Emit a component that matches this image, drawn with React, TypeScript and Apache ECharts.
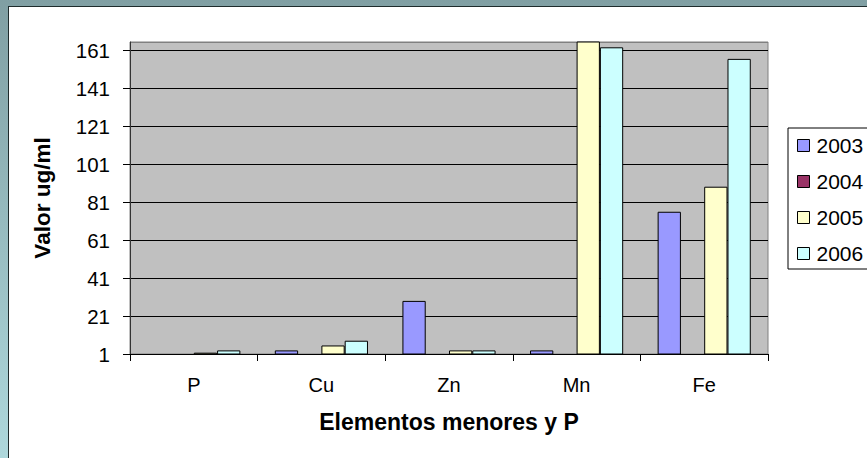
import React, { useEffect, useRef } from "react";
import * as echarts from "echarts";

const categories = ["P", "Cu", "Zn", "Mn", "Fe"];
const seriesNames = ["2003", "2004", "2005", "2006"];
const values2003 = [0, 2.9, 29, 2.9, 76];
const values2004 = [0, 0, 0, 0, 0];
const values2005 = [1.7, 5.5, 2.9, 200, 89.2];
const values2006 = [2.9, 8, 2.9, 162.7, 156.6];
const yTicks = [1, 21, 41, 61, 81, 101, 121, 141, 161];
const colors = ["#9999FF", "#993366", "#FFFFCC", "#CCFFFF"];

const FONT = "'Liberation Sans', Arial, sans-serif";

export default function App() {
  const ref = useRef<HTMLDivElement>(null);
  useEffect(() => {
    if (!ref.current) return;
    const chart = echarts.init(ref.current, undefined, { renderer: "svg" });
    const allValues = [values2003, values2004, values2005, values2006];
    const splitColors = yTicks.map(() => "#000000").concat(["#808080"]);
    chart.setOption({
      animation: false,
      backgroundColor: "transparent",
      textStyle: { fontFamily: FONT },
      grid: {
        left: 130,
        right: 99,
        top: 42,
        bottom: 104,
        show: true,
        backgroundColor: "#C0C0C0",
        borderColor: "#808080",
        borderWidth: 1,
      },
      legend: {
        orient: "vertical",
        left: 788,
        top: 128,
        padding: [7, 30, 5, 9],
        itemGap: 15,
        itemWidth: 12,
        itemHeight: 12,
        icon: "rect",
        backgroundColor: "#ffffff",
        borderColor: "#000000",
        borderWidth: 1,
        borderRadius: 0,
        itemStyle: { borderColor: "#000000", borderWidth: 1 },
        textStyle: { fontSize: 21, color: "#000", fontFamily: FONT, padding: [0, 0, 0, 2] },
        data: seriesNames,
      },
      xAxis: {
        type: "category",
        data: categories,
        name: "Elementos menores y P",
        nameLocation: "middle",
        nameGap: 56,
        nameTextStyle: { fontSize: 23, fontWeight: "bold", color: "#000", fontFamily: FONT },
        axisLine: { lineStyle: { color: "#000", width: 1 } },
        axisTick: { show: true, length: 7, lineStyle: { color: "#000" } },
        axisLabel: { margin: 21, fontSize: 20, color: "#000", fontFamily: FONT },
        splitLine: { show: false },
      },
      yAxis: {
        type: "value",
        min: 1,
        max: 165.5,
        interval: 20,
        name: "Valor ug/ml",
        nameLocation: "middle",
        nameGap: 76,
        nameTextStyle: { fontSize: 22.5, fontWeight: "bold", color: "#000", fontFamily: FONT },
        axisLine: { show: true, lineStyle: { color: "#333", width: 1 } },
        axisTick: { show: true, length: 7, lineStyle: { color: "#000" } },
        axisLabel: {
          margin: 20,
          fontSize: 20.5,
          color: "#000",
          fontFamily: FONT,
          showMaxLabel: false,
          formatter: (v: number) => (yTicks.includes(v) ? String(v) : ""),
        },
        splitLine: { show: true, lineStyle: { color: splitColors, width: 1 } },
      },
      series: seriesNames.map((name, i) => ({
        name,
        type: "bar",
        data: allValues[i],
        barGap: "0%",
        barCategoryGap: "27%",
        clip: true,
        itemStyle: { color: colors[i], borderColor: "#000", borderWidth: 1 },
      })),
    });
    return () => chart.dispose();
  }, []);

  return (
    <div
      style={{
        position: "fixed",
        left: 0,
        top: 0,
        width: 867,
        height: 458,
        background: "linear-gradient(to bottom, #809fa3, #aed8dc)",
        overflow: "hidden",
      }}
    >
      <div
        style={{
          position: "absolute",
          left: 8,
          top: 6,
          width: 859,
          height: 452,
          background: "#ffffff",
          borderTop: "1px solid #1e2b2c",
          borderLeft: "1px solid #1e2b2c",
          boxSizing: "border-box",
        }}
      />
      <div ref={ref} style={{ position: "absolute", left: 0, top: 0, width: 867, height: 458 }} />
    </div>
  );
}
